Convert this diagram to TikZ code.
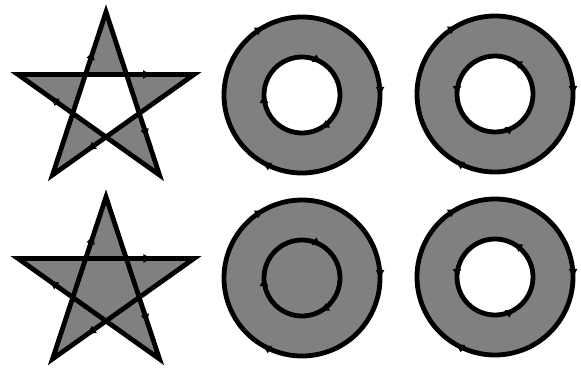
\documentclass[tikz,border=0pt]{standalone}
\usetikzlibrary{arrows.meta,decorations.markings}
\definecolor{fillgray}{HTML}{808080}
\tikzset{
  outline/.style={draw=black, line width=4.8pt, line join=miter},
  ringarrows/.style={postaction={decorate}, decoration={markings,
     mark=at position 1/6 with {\arrow{Triangle[length=8pt,width=8pt]}},
     mark=at position 1/2 with {\arrow{Triangle[length=8pt,width=8pt]}},
     mark=at position 5/6 with {\arrow{Triangle[length=8pt,width=8pt]}}}},
  stararrows/.style={postaction={decorate}, decoration={markings,
     mark=at position 0.15 with {\arrow{Triangle[length=8pt,width=8pt]}},
     mark=at position 0.35 with {\arrow{Triangle[length=8pt,width=8pt]}},
     mark=at position 0.55 with {\arrow{Triangle[length=8pt,width=8pt]}},
     mark=at position 0.75 with {\arrow{Triangle[length=8pt,width=8pt]}},
     mark=at position 0.95 with {\arrow{Triangle[length=8pt,width=8pt]}}}}
}
\begin{document}
\begin{tikzpicture}[x=1pt,y=-1pt]
\useasboundingbox (0,0) rectangle (581,370);
% ---- top star (even-odd)
\coordinate (ta) at (52.5,175);
\coordinate (tb) at (106,12);
\coordinate (tc) at (159.5,175);
\coordinate (td) at (18,74.5);
\coordinate (te) at (194,74.5);
\fill[fillgray, even odd rule] (ta) -- (tb) -- (tc) -- (td) -- (te) -- cycle;
\draw[outline, stararrows] (ta) -- (tb) -- (tc) -- (td) -- (te) -- cycle;
% ---- bottom star (nonzero)
\coordinate (ba) at (52.5,359);
\coordinate (bb) at (106,197);
\coordinate (bc) at (159.5,359);
\coordinate (bd) at (18,258.5);
\coordinate (be) at (194,258.5);
\fill[fillgray, nonzero rule] (ba) -- (bb) -- (bc) -- (bd) -- (be) -- cycle;
\draw[outline, stararrows] (ba) -- (bb) -- (bc) -- (bd) -- (be) -- cycle;
% ---- ring centres
\coordinate (r1) at (302,95);
\coordinate (r2) at (495,94);
\coordinate (r3) at (302,278);
\coordinate (r4) at (495,277);
% ring 1: even-odd, both clockwise
\fill[fillgray, even odd rule] (r1) circle[radius=78] (r1) circle[radius=38];
\draw[outline, ringarrows] (r1) ++(-60:78) arc[start angle=-60, end angle=300, radius=78];
\draw[outline, ringarrows] (r1) ++(0:38) arc[start angle=0, end angle=360, radius=38];
% ring 2: even-odd, inner counterclockwise
\fill[fillgray, even odd rule] (r2) circle[radius=78] (r2) circle[radius=38];
\draw[outline, ringarrows] (r2) ++(-60:78) arc[start angle=-60, end angle=300, radius=78];
\draw[outline, ringarrows] (r2) ++(0:38) arc[start angle=0, end angle=-360, radius=38];
% ring 3: nonzero, both clockwise -> filled
\fill[fillgray] (r3) circle[radius=78];
\draw[outline, ringarrows] (r3) ++(-60:78) arc[start angle=-60, end angle=300, radius=78];
\draw[outline, ringarrows] (r3) ++(0:38) arc[start angle=0, end angle=360, radius=38];
% ring 4: nonzero, inner counterclockwise -> hole
\fill[fillgray, even odd rule] (r4) circle[radius=78] (r4) circle[radius=38];
\draw[outline, ringarrows] (r4) ++(-60:78) arc[start angle=-60, end angle=300, radius=78];
\draw[outline, ringarrows] (r4) ++(0:38) arc[start angle=0, end angle=-360, radius=38];
\end{tikzpicture}
\end{document}
